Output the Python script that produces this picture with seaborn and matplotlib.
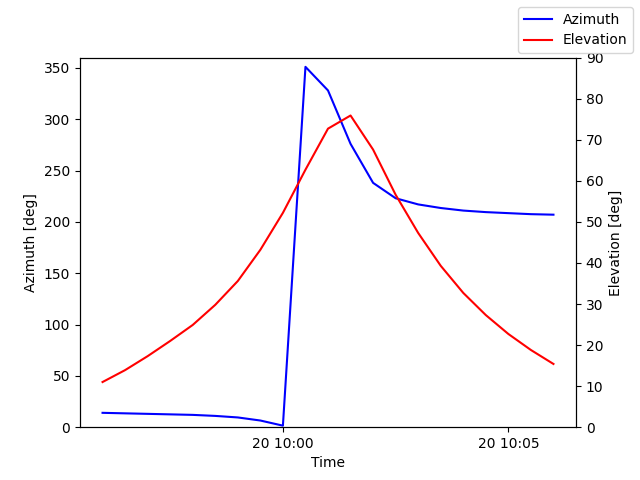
import numpy as np
import pandas as pd
import matplotlib
matplotlib.use("Agg")
import matplotlib.pyplot as plt
import matplotlib.dates as mdates
import seaborn as sns

times = pd.date_range("2024-01-20 09:56:00", "2024-01-20 10:06:00", freq="30s")
azimuth = [14, 13.5, 13, 12.5, 12, 11, 9.5, 6.5, 1.5, 351, 328, 276, 238, 223,
           217, 213.5, 211, 209.5, 208.5, 207.5, 207]
elevation = [11, 13.9, 17.3, 21, 24.9, 29.8, 35.6, 43.2, 52.2, 62.7, 72.7, 75.9,
             67.6, 56.6, 47.3, 39.3, 32.7, 27.3, 22.7, 18.8, 15.4]

df = pd.DataFrame({"Time": times, "Azimuth": azimuth, "Elevation": elevation})

fig, ax = plt.subplots(figsize=(6.4, 4.8), dpi=100)
sns.lineplot(data=df, x="Time", y="Azimuth", color="blue", ax=ax, label="Azimuth", legend=False)
ax2 = ax.twinx()
sns.lineplot(data=df, x="Time", y="Elevation", color="red", ax=ax2, label="Elevation", legend=False)

ax.set_ylim(0, 360)
ax2.set_ylim(0, 90)
ax.set_xlabel("Time")
ax.set_ylabel("Azimuth [deg]")
ax2.set_ylabel("Elevation [deg]")
ax.xaxis.set_major_locator(mdates.MinuteLocator(byminute=[0, 5]))
ax.xaxis.set_major_formatter(mdates.DateFormatter("%d %H:%M"))

fig.legend(loc="upper right")
fig.savefig("out.png")
